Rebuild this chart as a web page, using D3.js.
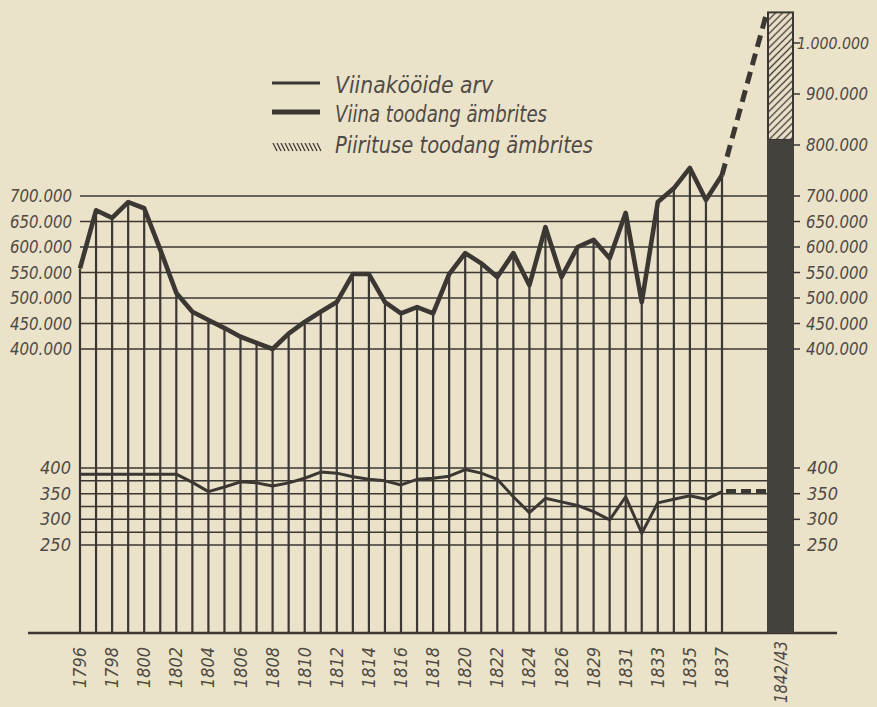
<!DOCTYPE html>
<html><head><meta charset="utf-8">
<script src="https://cdn.jsdelivr.net/npm/d3@7"></script>
<style>html,body{margin:0;padding:0;background:#ebe2ca;}svg{display:block;}</style>
</head><body>
<svg id="chart" width="877" height="707"></svg>
<script>
// ---- data ----
const years = ["1796","1797","1798","1799","1800","1801","1802","1803","1804","1805","1806","1807","1808","1809","1810","1811","1812","1813","1814","1815","1816","1817","1818","1819","1820","1821","1822","1823","1824","1825","1826","1828","1829","1830","1831","1832","1833","1834","1835","1836","1837"];
const viinaToodang = [558000,672000,657000,688000,676000,595000,510000,473000,457000,441000,424000,412000,400000,430000,453000,473000,492000,547000,547000,492000,470000,482000,470000,547000,588000,568000,541000,588000,525000,639000,541000,600000,614000,578000,667000,492000,688000,715000,755000,692000,741000];
const viinakookideArv = [388,388,388,388,388,388,388,372,354,363,373,371,365,371,380,392,390,383,378,375,367,378,380,384,397,390,378,344,313,341,334,327,315,299,344,273,332,339,346,339,354];
const lastPeriod = "1842/43";
const lastViina = 810000;
const lastPiiritus = 250000;
const lastKookide = 355;
const upperTicks = [400000,450000,500000,550000,600000,650000,700000];
const upperRightExtra = [800000,900000,1000000];
const lowerTicks = [250,300,350,400];
const lowerGrid = [250,275,300,325,350,375,400];
const legendItems = ["Viinakööide arv","Viina toodang ämbrites","Piirituse toodang ämbrites"];

// ---- setup ----
const svg = d3.select("#chart");
const ink = "#3b3733", txt = "#4f4a44";
const FONT = "'Liberation Sans Narrow','DejaVu Sans Condensed','Roboto Condensed',sans-serif";
svg.append("rect").attr("width",877).attr("height",707).attr("fill","#ebe2ca");

const x = d3.scalePoint().domain(years).range([80,722]);
const yU = d3.scaleLinear().domain([400000,1000000]).range([349,43]);
const yL = d3.scaleLinear().domain([250,400]).range([545,468]);
const baseY = 633, barX0 = 768, barX1 = 793, gridX1 = 768;

function fitText(sel, len){ sel.attr("textLength",len).attr("lengthAdjust","spacingAndGlyphs"); }
function fmt(v){ return d3.format(",")(v).replace(/,/g,"."); }

// gridlines
const g = svg.append("g");
g.selectAll(".gu").data(upperTicks).join("line")
  .attr("x1",80).attr("x2",gridX1).attr("y1",d=>yU(d)).attr("y2",d=>yU(d))
  .attr("stroke",ink).attr("stroke-width",1.6);
g.selectAll(".gl").data(lowerGrid).join("line")
  .attr("x1",80).attr("x2",gridX1).attr("y1",d=>yL(d)).attr("y2",d=>yL(d))
  .attr("stroke",ink).attr("stroke-width",1.5);

// verticals
g.selectAll(".v").data(years).join("line")
  .attr("x1",d=>x(d)).attr("x2",d=>x(d))
  .attr("y1",baseY).attr("y2",(d,i)=>yU(viinaToodang[i]))
  .attr("stroke",ink).attr("stroke-width",2.2);

// baseline
g.append("line").attr("x1",28).attr("x2",837).attr("y1",baseY).attr("y2",baseY)
  .attr("stroke",ink).attr("stroke-width",2.6);

// bar 1842/43
const defs = svg.append("defs");
const pat = defs.append("pattern").attr("id","hatch").attr("patternUnits","userSpaceOnUse")
  .attr("width",5).attr("height",5).attr("patternTransform","rotate(-45)");
pat.append("rect").attr("width",5).attr("height",5).attr("fill","#ebe2ca");
pat.append("line").attr("x1",0).attr("x2",5).attr("y1",2.5).attr("y2",2.5).attr("stroke",ink).attr("stroke-width",1.3);
const topV = lastViina + lastPiiritus;
g.append("rect").attr("x",barX0).attr("width",barX1-barX0)
  .attr("y",yU(topV)).attr("height",yU(lastViina)-yU(topV))
  .attr("fill","url(#hatch)").attr("stroke",ink).attr("stroke-width",2);
g.append("rect").attr("x",barX0-1).attr("width",barX1-barX0+2)
  .attr("y",yU(lastViina)).attr("height",baseY-yU(lastViina))
  .attr("fill","#45413c");

// lines
const lineU = d3.line().x((d,i)=>x(years[i])).y(d=>yU(d)).curve(d3.curveLinear);
const lineL = d3.line().x((d,i)=>x(years[i])).y(d=>yL(d)).curve(d3.curveLinear);
g.append("path").attr("d",lineU(viinaToodang)).attr("fill","none")
  .attr("stroke",ink).attr("stroke-width",4.6).attr("stroke-linejoin","round");
g.append("path").attr("d",lineL(viinakookideArv)).attr("fill","none")
  .attr("stroke",ink).attr("stroke-width",3).attr("stroke-linejoin","round");

// dashed extensions
const lastYear = years[years.length-1];
g.append("line").attr("x1",x(lastYear)).attr("y1",yU(viinaToodang[viinaToodang.length-1]))
  .attr("x2",barX0-2).attr("y2",yU(topV)+3)
  .attr("stroke",ink).attr("stroke-width",5).attr("stroke-dasharray","12,7");
g.append("line").attr("x1",x(lastYear)+4).attr("y1",yL(lastKookide))
  .attr("x2",barX0).attr("y2",yL(lastKookide))
  .attr("stroke",ink).attr("stroke-width",4).attr("stroke-dasharray","10,5");

// left axis labels
const lab = svg.append("g").attr("font-family",FONT).attr("font-style","italic").attr("fill",txt).attr("font-size",18);
lab.selectAll(".lu").data(upperTicks).join("text")
  .attr("x",72).attr("y",d=>yU(d)+6).attr("text-anchor","end").text(fmt)
  .call(s=>fitText(s,62));
lab.selectAll(".ll").data(lowerTicks).join("text")
  .attr("x",71).attr("y",d=>yL(d)+6).attr("text-anchor","end").text(d=>d)
  .call(s=>fitText(s,31));

// right axis ticks + labels
const rightU = upperTicks.concat(upperRightExtra);
g.selectAll(".rtu").data(rightU).join("line")
  .attr("x1",barX1).attr("x2",barX1+7).attr("y1",d=>yU(d)).attr("y2",d=>yU(d))
  .attr("stroke",ink).attr("stroke-width",1.5);
g.selectAll(".rtl").data(lowerTicks).join("line")
  .attr("x1",barX1).attr("x2",barX1+7).attr("y1",d=>yL(d)).attr("y2",d=>yL(d))
  .attr("stroke",ink).attr("stroke-width",1.5);
lab.selectAll(".ru").data(rightU).join("text")
  .attr("x",d=>d>=1000000?797:806).attr("y",d=>yU(d)+6).text(fmt)
  .attr("font-size",d=>d>=1000000?16.5:18)
  .each(function(d){ fitText(d3.select(this), d>=1000000?72:62); });
lab.selectAll(".rl").data(lowerTicks).join("text")
  .attr("x",807).attr("y",d=>yL(d)+6).text(d=>d)
  .call(s=>fitText(s,31));

// year labels
lab.selectAll(".yr").data(years.filter((d,i)=>i%2===0)).join("text")
  .attr("transform",d=>`translate(${x(d)+6},647) rotate(-90)`)
  .attr("text-anchor","end").text(d=>d)
  .call(s=>fitText(s,41));
lab.append("text").attr("transform",`translate(${(barX0+barX1)/2+6},641) rotate(-90)`)
  .attr("text-anchor","end").text(lastPeriod).call(s=>fitText(s,62));

// legend
const lg = svg.append("g");
lg.append("line").attr("x1",272).attr("x2",320).attr("y1",83).attr("y2",83).attr("stroke",ink).attr("stroke-width",3);
lg.append("line").attr("x1",272).attr("x2",320).attr("y1",112).attr("y2",112).attr("stroke",ink).attr("stroke-width",5);
lg.selectAll(".h").data(d3.range(12)).join("line")
  .attr("x1",d=>273+d*4).attr("x2",d=>277+d*4).attr("y1",143).attr("y2",151)
  .attr("stroke",ink).attr("stroke-width",1.2);
const legY = [93,122,153], legW = [158,212,258];
lg.selectAll(".lt").data(legendItems).join("text")
  .attr("x",335).attr("y",(d,i)=>legY[i]).text(d=>d)
  .attr("font-family",FONT).attr("font-style","italic").attr("font-size",23).attr("fill",txt)
  .each(function(d,i){ fitText(d3.select(this), legW[i]); });
</script>
</body></html>
